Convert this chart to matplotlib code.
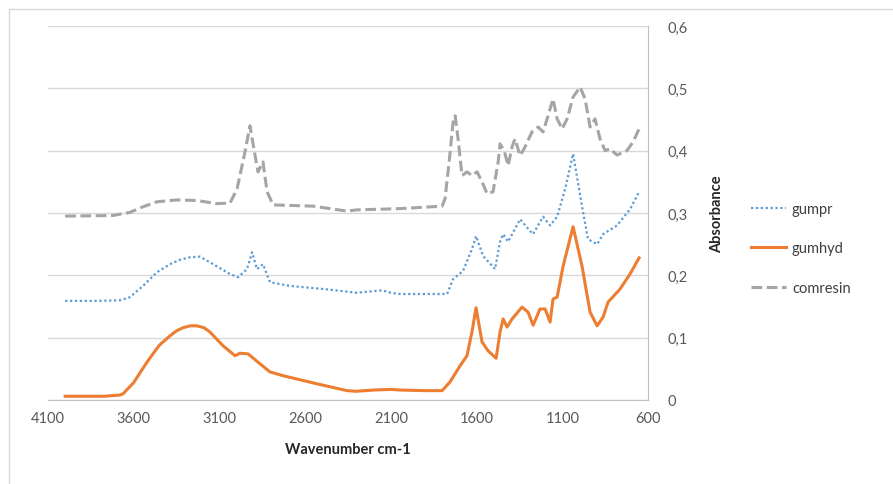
import matplotlib
matplotlib.use("Agg")
import matplotlib.pyplot as plt
from matplotlib.ticker import FuncFormatter, MultipleLocator
from matplotlib.patches import Rectangle

plt.rcParams['font.family'] = ['Lato', 'DejaVu Sans']

# wavenumbers (cm-1) and absorbance
gumhyd_wn = [4000, 3900, 3770, 3680, 3662, 3600, 3560, 3522, 3480, 3450, 3388, 3350,
             3312, 3270, 3231, 3190, 3155, 3079, 3009, 2980, 2933, 2863, 2805, 2729,
             2531, 2356, 2300, 2200, 2100, 2046, 1900, 1801, 1755, 1696, 1656, 1627,
             1603, 1568, 1533, 1486, 1463, 1445, 1422, 1393, 1335, 1300, 1270, 1230,
             1200, 1171, 1154, 1130, 1095, 1037, 985, 938, 897, 862, 833, 763, 705, 652]
gumhyd_abs = [.006, .006, .006, .008, .010, .028, .045, .061, .077, .088, .103, .111,
              .116, .119, .119, .116, .109, .087, .071, .075, .074, .058, .045, .039,
              .026, .015, .014, .016, .017, .016, .015, .015, .029, .055, .071, .109,
              .148, .093, .079, .067, .109, .130, .117, .130, .149, .141, .120, .146,
              .146, .125, .162, .165, .215, .278, .215, .141, .119, .133, .157, .178,
              .202, .228]

gumpr_wn = [4000, 3814, 3680, 3622, 3546, 3464, 3388, 3330, 3271, 3213, 3137, 3038,
            2991, 2939, 2910, 2881, 2846, 2805, 2688, 2455, 2300, 2150, 2100, 2046,
            1772, 1737, 1679, 1627, 1603, 1562, 1492, 1463, 1445, 1416, 1346, 1306,
            1271, 1212, 1171, 1130, 1083, 1037, 985, 950, 897, 862, 781, 705, 652]
gumpr_abs = [.159, .159, .160, .165, .183, .205, .218, .225, .229, .230, .218, .202,
             .197, .210, .237, .210, .218, .189, .183, .177, .172, .176, .172, .170,
             .170, .194, .207, .242, .263, .231, .210, .254, .266, .254, .290, .277,
             .266, .294, .280, .294, .339, .395, .311, .258, .250, .266, .280, .306,
             .334]

comresin_wn = [4000, 3721, 3622, 3546, 3464, 3347, 3231, 3114, 3038, 2997, 2951, 2922,
               2892, 2875, 2846, 2822, 2787, 2554, 2356, 2300, 2046, 1801, 1784, 1760,
               1737, 1725, 1708, 1685, 1656, 1627, 1597, 1568, 1539, 1504, 1474, 1463,
               1439, 1416, 1393, 1376, 1346, 1317, 1277, 1241, 1212, 1183, 1154, 1130,
               1101, 1072, 1037, 996, 967, 938, 909, 880, 850, 821, 781, 723, 687, 652]
comresin_abs = [.295, .296, .301, .310, .318, .321, .320, .315, .316, .339, .398, .440,
                .392, .366, .382, .334, .313, .311, .303, .305, .307, .311, .323, .382,
                .446, .456, .419, .360, .366, .360, .366, .350, .331, .334, .382, .411,
                .400, .376, .406, .419, .392, .406, .430, .438, .430, .456, .483, .451,
                .435, .451, .486, .502, .483, .438, .451, .419, .400, .403, .393, .400,
                .414, .435]

x_ticks = [4100, 3600, 3100, 2600, 2100, 1600, 1100, 600]

fig = plt.figure(figsize=(8.93, 4.85), dpi=100)
# outer chart frame
fig.patches.append(Rectangle((9 / 893, -0.1), 1.2, 1.1 - 10 / 485,
                             transform=fig.transFigure, fill=False,
                             edgecolor='#d9d9d9', linewidth=1))
ax = fig.add_axes([48 / 893, 84 / 485, 600 / 893, 374 / 485])

ax.plot(gumpr_wn, gumpr_abs, color='#5B9BD5', linestyle=(0, (1, 1.2)), linewidth=1.6, label='gumpr')
ax.plot(gumhyd_wn, gumhyd_abs, color='#ED7D31', linestyle='-', linewidth=2.2, label='gumhyd')
ax.plot(comresin_wn, comresin_abs, color='#A5A5A5', linestyle=(0, (3.5, 1.5)), linewidth=2.2, label='comresin')

ax.set_xlim(4100, 600)
ax.set_ylim(0, 0.6)
ax.set_xticks(x_ticks)
ax.yaxis.set_major_locator(MultipleLocator(0.1))
ax.yaxis.tick_right()
ax.yaxis.set_label_position('right')
ax.yaxis.set_major_formatter(FuncFormatter(lambda v, p: '0' if abs(v) < 1e-9 else ('%.1f' % v).replace('.', ',')))

ax.grid(axis='y', color='#d9d9d9', linewidth=1)
ax.set_axisbelow(True)
for s in ['top', 'left']:
    ax.spines[s].set_visible(False)
for s in ['right', 'bottom']:
    ax.spines[s].set_color('#bfbfbf')
ax.tick_params(axis='both', length=0, colors='#595959', labelsize=10.5)
ax.tick_params(axis='y', pad=14)
ax.tick_params(axis='x', pad=8)

ax.set_xlabel('Wavenumber cm-1', fontsize=10.5, fontweight='bold', color='#262626', labelpad=12)
ax.set_ylabel('Absorbance', fontsize=10.5, fontweight='bold', color='#262626', labelpad=16)

ax.legend(loc='center left', bbox_to_anchor=(1.15, 0.406), frameon=False, fontsize=10.5,
          handlelength=2.4, handletextpad=0.4, labelspacing=1.75, labelcolor='#404040')

fig.savefig('out.png', dpi=100)
